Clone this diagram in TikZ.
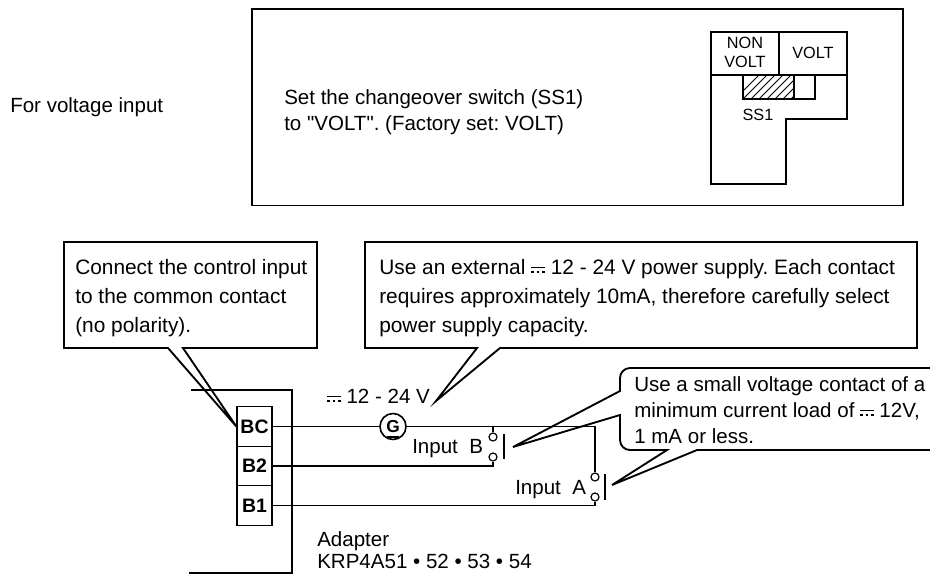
\documentclass[tikz,border=0pt]{standalone}
\usepackage{fontspec}
\setmainfont{Liberation Sans}
\newfontfamily\rawfont{Liberation Sans}
\newcommand{\dcsym}{\mbox{\rlap{\rule[.27em]{.66em}{.07em}}\rule[.06em]{.12em}{.09em}\kern.15em\rule[.06em]{.12em}{.09em}\kern.15em\rule[.06em]{.12em}{.09em}}}
\tikzset{
  txt/.style={inner sep=0pt, anchor=base west, font=\fontsize{15.4pt}{17pt}\selectfont},
  bigtxt/.style={txt, font=\fontsize{15.65pt}{17pt}\selectfont},
  smalltxt/.style={inner sep=0pt, font=\fontsize{12.2pt}{14.3pt}\selectfont, align=center},
  callout/.style={line width=1.4pt, line join=miter},
  wire/.style={line width=0.9pt},
  terminal/.style={draw, line width=1pt, minimum width=26.2pt, minimum height=29.6pt, inner sep=0pt, font=\fontsize{14.6pt}{15pt}\selectfont\bfseries},
  contact/.style={draw, circle, line width=0.9pt, minimum size=6pt, inner sep=0pt, fill=white},
}
\begin{document}
\frenchspacing
\begin{tikzpicture}[x=0.75pt, y=-0.75pt]
  \useasboundingbox (0, 0) rectangle (930, 575);

  \node[txt] (voltage) at (10, 112) {For voltage input};
  \draw[line width=1pt] (252, 9) rectangle (903, 205.5);
  \node[txt] (set1) at (284, 104) {Set the changeover switch (SS1)};
  \node[txt] (set2) at (284, 130) {\rawfont to "VOLT". (Factory set: VOLT)};

  \begin{scope}
    \clip (743, 75) rectangle (794, 99);
    \foreach \x in {735, 743, ..., 815} {
      \draw[line width=0.7pt] (\x, 99) -- (\x + 24, 75);
    }
  \end{scope}
  \draw[line width=1pt] (743, 75) rectangle (815, 99);
  \draw[line width=1pt] (794, 75) -- (794, 99);
  \draw[line width=1.2pt] (711, 32) rectangle (847, 75);
  \draw[line width=1pt] (779, 32) -- (779, 75);
  \draw[line width=1.2pt] (711, 75) -- (711, 184) -- (786, 184) -- (786, 119) -- (847, 119) -- (847, 75);
  \node[smalltxt] (nonvolt) at (745, 52.5) {NON\\VOLT};
  \node[smalltxt] (volt) at (813, 53) {VOLT};
  \node[smalltxt] (ss1) at (758, 115) {SS1};

  \draw[line width=1.5pt] (191, 390) -- (292, 390) -- (292, 573) -- (189, 573);
  \node[terminal] (BC) at (254.5, 426.5) {BC};
  \node[terminal] (B2) at (254.5, 466) {B2};
  \node[terminal] (B1) at (254.5, 505.5) {B1};

  \node[draw, circle, line width=1.2pt, minimum size=19.5pt, inner sep=0pt, font=\fontsize{13pt}{13pt}\selectfont\bfseries] (G) at (393, 426.5) {G};
  \draw[line width=1.2pt] (387, 437) -- (399, 437);
  \node[contact] (inBtop) at (493, 437) {};
  \node[contact] (inBbot) at (493, 457) {};
  \node[contact] (inAtop) at (595, 477) {};
  \node[contact] (inAbot) at (595, 497) {};
  \draw[wire] (BC.east) -- (G.west);
  \draw[wire] (G.east) -| (inAtop.north);
  \draw[wire] (inBtop.north) -- (inBtop.north |- G.east);
  \draw[wire] (B2.east) -| (inBbot.south);
  \draw[wire] (B1.east) -| (inAbot.south);

  \draw[line width=1pt] (504, 434) -- (504, 459);
  \draw[line width=1pt] (605, 474) -- (605, 500);
  \coordinate (tipB) at (513, 447);
  \coordinate (tipA) at (612, 485);
  \coordinate (tipV) at (436, 401);

  \node[txt] (inputB) at (412, 453) {Input~~B};
  \node[txt] (inputA) at (515, 494) {Input~~A};
  \node[txt] (dcV) at (327, 403) {\dcsym{} 12 - 24 V};
  \node[txt] (adapter) at (317, 546) {Adapter};
  \node[txt] (krp) at (317, 568) {KRP4A51 • 52 • 53 • 54};

  \draw[callout] (64, 242) -- (317, 242) -- (317, 348) -- (183, 348) -- (BC.west) -- (168, 348) -- (64, 348) -- cycle;
  \node[bigtxt] (conn1) at (75, 274) {Connect the control input};
  \node[bigtxt] (conn2) at (75, 303) {to the common contact};
  \node[bigtxt] (conn3) at (75, 332) {(no polarity).};

  \draw[callout] (365, 242) -- (917, 242) -- (917, 348) -- (500, 348) -- (tipV) -- (477, 348) -- (365, 348) -- cycle;
  \node[bigtxt] (use1) at (379, 274) {Use an external \dcsym{} 12 - 24 V power supply. Each contact};
  \node[bigtxt] (use2) at (379, 303) {requires approximately 10mA, therefore carefully select};
  \node[bigtxt] (use3) at (379, 332) {power supply capacity.};

  \draw[callout] (930, 368) -- (630, 368) to[out=180, in=90] (620, 378) -- (620, 391) -- (tipB) -- (620, 415) -- (620, 440) to[out=-90, in=180] (630, 450) -- (667, 450) -- (tipA) -- (697, 450) -- (930, 450);
  \node[txt] (small1) at (634, 391) {Use a small voltage contact of a};
  \node[txt] (small2) at (634, 417) {minimum current load of \dcsym{} 12V,};
  \node[txt] (small3) at (634, 443) {1 mA or less.};
\end{tikzpicture}
\end{document}
